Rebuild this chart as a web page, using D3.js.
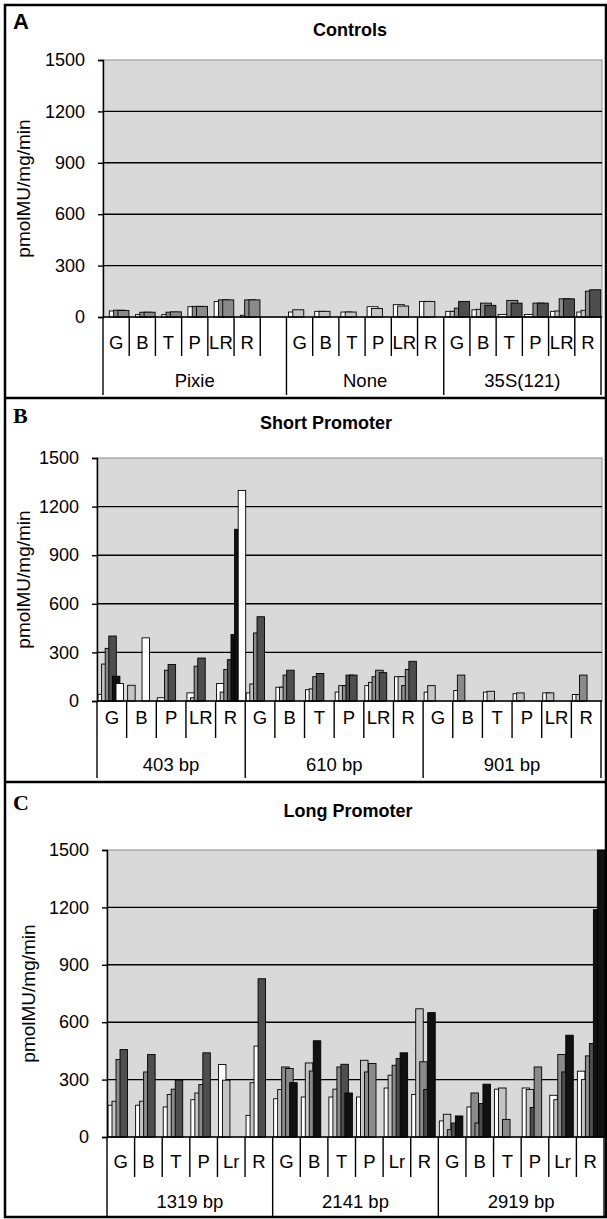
<!DOCTYPE html>
<html><head><meta charset="utf-8">
<script src="https://cdn.jsdelivr.net/npm/d3@7"></script>
<style>
body{margin:0;background:#fff}
svg{display:block}
text{font-family:"Liberation Sans",Arial,Helvetica,sans-serif}
</style>
</head><body>
<svg id="c" width="607" height="1219"></svg>
<script>
// ---------- data ----------
const yTicks = [0, 300, 600, 900, 1200, 1500];
const yLabel = "pmolMU/mg/min";

// Panel A
const catsA = ["G","B","T","P","LR","R","","G","B","T","P","LR","R","G","B","T","P","LR","R"];
const groupOfA = [0,0,0,0,0,0,0,1,1,1,1,1,1,2,2,2,2,2,2];
const groupsA = ["Pixie","None","35S(121)"];
const tonesA = ["-wmm","-wmm","-wmm","-wmm","-wmm","-wmm","",
                "wl","wl","wl","wl","wl","wl",
                "wlmd","wlmd","w-md","w-md","wlmd","wlmd"];
const valuesA = [[null,35,40,38],[null,14,28,28],[null,14,28,30],[null,60,62,62],[null,90,100,100],[null,10,100,100],[],
                 [29,42],[33,33],[29,29],[60,50],[72,64],[91,91],
                 [33,33,52,91],[42,45,81,68],[15,null,97,81],[15,null,81,81],[33,35,106,106],[29,39,151,159]];

// Panel B
const catsB = ["G","B","P","LR","R","G","B","T","P","LR","R","G","B","T","P","LR","R"];
const groupOfB = [0,0,0,0,0,1,1,1,1,1,1,2,2,2,2,2,2];
const groupsB = ["403 bp","610 bp","901 bp"];
const tonesB = ["wlmdkw","l---w","w-md","wlmd","wlmdkkw",
                "wlmd","wlmd","wlmd","wlmdd","wlmmd","wlmmd",
                "wl","wm","wl","wl","wl","wlm"];
const valuesB = [[41,228,325,401,153,108],[97,null,null,null,390],[20,null,190,225],[50,20,215,265],[108,55,195,255,410,1060,1300],
                 [50,105,420,520],[85,85,160,190],[70,75,150,170],[55,95,95,160,160],[95,115,150,190,175],[150,150,95,195,245],
                 [55,95],[65,160],[55,60],[45,50],[50,50],[40,40,160]];

// Panel C
const catsC = ["G","B","T","P","Lr","R","G","B","T","P","Lr","R","G","B","T","P","Lr","R"];
const groupOfC = [0,0,0,0,0,0,1,1,1,1,1,1,2,2,2,2,2,2];
const groupsC = ["1319 bp","2141 bp","2919 bp"];
const tonesC = ["wlmd","wlmd","wlmd","wlmd","wl","wlwd",
                "wlmmk","wlmk","wlmdk","wlmm","wlmdk","wlmdk",
                "wlmdk","wmmdk","wlm","wldm","wlmdk","wlmdkk"];
const valuesC = [[166,187,405,457],[166,187,340,431],[157,222,250,297],[195,230,274,440],[379,297],[113,284,475,827],
                 [200,248,366,358,284],[209,387,345,503],[209,250,366,380,230],[209,401,340,384],[256,323,375,410,440],[222,670,393,248,650],
                 [84,119,38,73,110],[157,230,73,175,276],[250,256,92],[256,248,154,366],[218,195,431,340,532],[344,300,424,489,1188,1500]];

// ---------- drawing ----------
const svg = d3.select("#c");
const tone = d3.scaleOrdinal().domain(["w","l","m","d","k"])
  .range(["#ffffff","#c4c4c4","#8a8a8a","#4e4e4e","#111111"]);

function panel(p) {
  const g = svg.append("g");
  const x = d3.scaleBand().domain(d3.range(p.cats.length)).range([p.x0, p.x1]).paddingInner(0).paddingOuter(0);
  const y = d3.scaleLinear().domain([0, 1500]).range([p.y0, p.yTop]);

  // letter + title
  g.append("text").attr("x", 13).attr("y", p.letterY).attr("font-size", 22).attr("font-weight", "bold")
    .style("font-family", p.letterSerif ? "'Liberation Serif','Times New Roman',serif" : "'Liberation Sans',Arial,sans-serif")
    .text(p.letter);
  g.append("text").attr("x", p.titleX).attr("y", p.titleY).attr("text-anchor", "middle")
    .attr("font-size", 18).attr("font-weight", "bold").text(p.title);

  // plot background
  g.append("rect").attr("x", p.x0).attr("y", y(1500)).attr("width", p.x1 + 1 - p.x0).attr("height", y(0) - y(1500))
    .attr("fill", "#d9d9d9").attr("stroke", "#8c8c8c").attr("stroke-width", 1);

  // gridlines
  g.append("g").selectAll("line").data(yTicks.filter(v => v > 0 && v < 1500)).join("line")
    .attr("x1", p.x0).attr("x2", p.x1 + 1).attr("y1", d => y(d)).attr("y2", d => y(d))
    .attr("stroke", "#000").attr("stroke-width", 1.4);

  // bars
  const bars = [];
  p.values.forEach((vals, ci) => {
    vals.forEach((v, si) => {
      const t = p.tones[ci][si];
      if (v == null || t === "-") return;
      bars.push({ci, si, v, t});
    });
  });
  g.append("g").selectAll("rect").data(bars).join("rect")
    .attr("x", d => x(d.ci) + p.pad + d.si * p.step)
    .attr("width", p.bw)
    .attr("y", d => y(Math.min(d.v, 1500)))
    .attr("height", d => y(0) - y(Math.min(d.v, 1500)))
    .attr("fill", d => tone(d.t))
    .attr("stroke", "#000").attr("stroke-width", 0.9);

  // y axis
  const ax = g.append("g").attr("transform", `translate(${p.x0},0)`)
    .call(d3.axisLeft(y).tickValues(yTicks).tickSize(5).tickPadding(13).tickFormat(d3.format("d")));
  ax.select(".domain").attr("stroke", "#000").attr("stroke-width", 1.4);
  ax.selectAll(".tick line").attr("stroke", "#000").attr("stroke-width", 1.4);
  ax.selectAll(".tick text").attr("font-size", 18).style("font-family", "'Liberation Sans',Arial,sans-serif").attr("fill", "#000");

  // x baseline
  g.append("line").attr("x1", p.x0).attr("x2", p.x1 + 1).attr("y1", y(0)).attr("y2", y(0))
    .attr("stroke", "#000").attr("stroke-width", 1.6);

  // category dividers
  const n = p.cats.length;
  const edges = d3.range(n + 1).map(i => i < n ? x(i) : x(n - 1) + x.bandwidth());
  const isGroupEdge = i => i === 0 || i === n || p.groupOf[i] !== p.groupOf[i - 1];
  g.append("g").selectAll("line").data(d3.range(n + 1)).join("line")
    .attr("x1", i => edges[i]).attr("x2", i => edges[i])
    .attr("y1", y(0)).attr("y2", i => isGroupEdge(i) ? p.yLong : p.yShort)
    .attr("stroke", "#000").attr("stroke-width", 1.4);

  // category labels
  g.append("g").selectAll("text").data(p.cats).join("text")
    .attr("x", (d, i) => x(i) + x.bandwidth() / 2).attr("y", p.catY)
    .attr("text-anchor", "middle").attr("font-size", 18.5).text(d => d);

  // group labels
  p.groups.forEach((gn, gi) => {
    const idx = d3.range(n).filter(i => p.groupOf[i] === gi);
    const a = x(idx[0]), b = x(idx[idx.length - 1]) + x.bandwidth();
    g.append("text").attr("x", (a + b) / 2).attr("y", p.groupY).attr("text-anchor", "middle")
      .attr("font-size", 18.5).text(gn);
  });

  // y label
  g.append("text").attr("transform", `translate(${p.ylabX},${(y(0) + y(1500)) / 2}) rotate(-90)`)
    .attr("text-anchor", "middle").attr("font-size", 19).text(yLabel);
}

panel({letter: "A", letterY: 29, letterSerif: false, title: "Controls", titleX: 350, titleY: 36,
  cats: catsA, groupOf: groupOfA, groups: groupsA, tones: tonesA, values: valuesA,
  x0: 103, x1: 601, yTop: 60, y0: 317, pad: 2, step: 4.3, bw: 11,
  catY: 349, yShort: 356, groupY: 387, yLong: 395, ylabX: 30});

panel({letter: "B", letterY: 423, letterSerif: true, title: "Short Promoter", titleX: 326, titleY: 429,
  cats: catsB, groupOf: groupOfB, groups: groupsB, tones: tonesB, values: valuesB,
  x0: 97, x1: 601, yTop: 458, y0: 701, pad: 1, step: 3.6, bw: 7.5,
  catY: 724, yShort: 738, groupY: 771, yLong: 778, ylabX: 30});

panel({letter: "C", letterY: 810, letterSerif: true, title: "Long Promoter", titleX: 348, titleY: 817,
  cats: catsC, groupOf: groupOfC, groups: groupsC, tones: tonesC, values: valuesC,
  x0: 107, x1: 604, yTop: 850, y0: 1137, pad: 1, step: 4.0, bw: 7.5,
  catY: 1168, yShort: 1177, groupY: 1208, yLong: 1216, ylabX: 35});

// frame and separators
svg.append("rect").attr("x", 5).attr("y", 5).attr("width", 601).attr("height", 1212)
  .attr("fill", "none").attr("stroke", "#000").attr("stroke-width", 2.5);
[398, 782].forEach(yy => svg.append("line").attr("x1", 5).attr("x2", 606).attr("y1", yy).attr("y2", yy)
  .attr("stroke", "#000").attr("stroke-width", 2.5));
</script>
</body></html>
